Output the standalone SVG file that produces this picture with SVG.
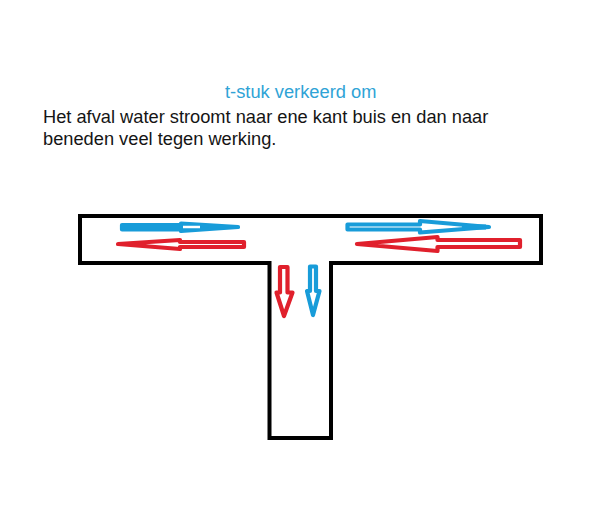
<svg xmlns="http://www.w3.org/2000/svg" width="600" height="506" viewBox="0 0 600 506">
<style>
text{font-family:"Liberation Sans",Arial,sans-serif}
.title{font-size:18.300px;fill:#2fa3d6}
.body{font-size:18.250px;fill:#151515}
.pipe{fill:none;stroke:#000;stroke-width:4}
.r{fill:#fff;stroke:#e0202c;stroke-width:4.200;stroke-linejoin:round}
.b{fill:#fff;stroke:#189cd9;stroke-width:4.200;stroke-linejoin:round}
</style>
<rect width="600" height="506" fill="#fff"/>
<g id="title"><text class="title" x="225" y="98">t-stuk verkeerd om</text></g>
<g id="description">
<text class="body" x="43" y="123">Het afval water stroomt naar ene kant buis en dan naar</text>
<text class="body" x="43" y="145">beneden veel tegen werking.</text>
</g>
<g id="t-piece"><path class="pipe" d="M80 216H541V263H331V438H269.500V263H80Z"/></g>
<g id="connectors">
<path id="blue-left" class="b" d="M122 225H181V223.500L238 227L181 231V229.500H122Z" style="fill:#189cd9"/>
<path d="M183 227H200" stroke="#fff" stroke-width="2.500" fill="none"/>
<path id="red-left" class="r" d="M244 242H180V240L118 244L180 249V247H244Z"/>
<path id="blue-right" class="b" d="M347.500 224.500H420V221L489 227L420 232.500V229.500H347.500Z"/>
<path d="M462 227L486 227" stroke="#189cd9" stroke-width="5" fill="none"/>
<path id="red-right" class="r" d="M520 240H437.500V237L357 244L437.500 251V247H520Z"/>
<path id="red-down" class="r" d="M280 267H287.500V292.500H292.500L284 316L276.500 292.500H280Z"/>
<path id="blue-down" class="b" d="M310 266.500H316V291H319.500L313 315L307 291H310Z"/>
</g>
</svg>
